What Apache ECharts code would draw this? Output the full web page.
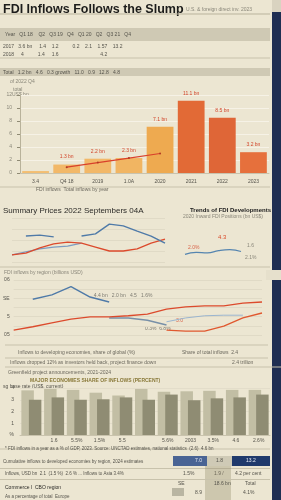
<!DOCTYPE html>
<html>
<head>
<meta charset="utf-8">
<script src="https://cdn.jsdelivr.net/npm/echarts@6/dist/echarts.min.js"></script>
<style>
  html, body { margin: 0; padding: 0; background: #ece6d2; }
  #chart { width: 281px; height: 500px; }
</style>
</head>
<body>
<div id="chart"></div>
<script>
// top bar chart
const barCats = ['3.4', 'Q4 18', '2019', '1.0A', '2020', '2021', '2022', '2023'];
const barVals = [0.3, 1.3, 2.2, 2.3, 7.1, 11.1, 8.5, 3.2];
const trendVals = [null, 0.9, 1.6, 2.3, 3.0, null, null, null];
const barTicks = ['0', '2', '4', '6', '8', '10', '12'];

// middle-left line chart
const midCats = ['J', 'F', 'M', 'A', 'M', 'J', 'J', 'A', 'S', 'O', 'N', 'D'];
const midBlue = [null, 5.9, 6.1, 5.7, null, 5.9, 6.4, 8.6, 8.2, 7.0, 5.9, 4.3];
const midRed = [1.6, 2.0, 3.2, 4.1, 4.5, 4.3, 3.4, 2.5, 2.5, 3.0, 4.3, 5.2];
const midBlue2 = [1.6, 2.3, 3.0, 3.4, 3.6, 4.3, null, null, null, null, null, null];

// small trend panel
const smallCats = ['a', 'b', 'c', 'd', 'e', 'f'];
const smallBlue = [1.0, 1.4, 1.3, 1.8, 2.0, 1.6];

// wide line chart
const wideCats = ['2011', '2012', '2013', '2014', '2015', '2016', '2017', '2018', '2019', '2020', '2021', '2022', '2023', '2024'];
const wideBlue = [null, 6.5, 7.3, 8.8, 6.9, 6.0, null, null, null, null, null, null, null, null];
const wideRed = [0.9, 1.5, 2.2, 2.9, 3.3, 3.3, 3.5, 3.8, 4.7, 5.1, 5.3, 5.3, 5.8, 6.0];
const wideRed2 = [null, null, null, null, null, null, null, null, 0.9, 0.7, 0.7, 1.6, 3.1, 4.0];
const wideSteel = [null, null, null, null, null, 3.1, 3.1, 2.7, 1.8, null, null, null, null, null];
const wideLight = [null, null, null, null, null, null, null, null, 2.4, 3.1, 3.5, 3.6, 3.6, null];
const wideTicks = ['05', '', '5', '', 'SE', '', '06'];

// bottom paired bars
const pairCats = ['', '1.6', '5.5%', '1.5%', '5.5', '', '5.6%', '2003', '3.5%', '4.6', '2.6%'];
const pairLight = [9.5, 9.8, 9.6, 9.0, 8.4, 9.8, 9.2, 9.3, 9.4, 9.6, 9.6];
const pairDark = [7.5, 8.0, 7.5, 7.6, 8.0, 7.5, 8.6, 7.4, 7.8, 8.0, 8.6];

const barColors = ['#f3be72', '#f2b868', '#f2b868', '#f1b562', '#eeaa50', '#e26a36', '#df6637', '#e6703c'];
const ink = '#3b3a36';
const faint = '#8a877a';
const font = 'Liberation Sans';

const chart = echarts.init(document.getElementById('chart'));

function txt(x, y, s, size, color, weight) {
  return {
    type: 'text', left: x, top: y,
    style: { text: s, fontSize: size, fill: color || faint, fontFamily: font, fontWeight: weight || 'normal' },
  };
}
function band(x, y, w, h, color) {
  return { type: 'rect', left: x, top: y, shape: { width: w, height: h }, style: { fill: color } };
}
function hline(y, x1, x2, color) {
  return { type: 'line', shape: { x1: x1, y1: y, x2: x2, y2: y }, style: { stroke: color || '#c8c2ac', lineWidth: 1 } };
}

const graphics = [
  band(272, 0, 9, 500, '#1f2e52'),
  band(272, 0, 9, 12, '#d9d3c0'),
  band(266, 270, 15, 10, '#e6e0cc'),
  txt(3, 3, 'FDI Inflows Follows the Slump', 12.5, '#1d1d1b', 'bold'),
  txt(186, 7, 'U.S. & foreign direct inv. 2023', 5, faint),
  hline(14, 0, 270, '#b9b39c'),
  band(0, 28, 270, 13, '#cfc9b4'),
  txt(5, 32, 'Year   Q1 18    Q2   Q3 19   Q4   Q1 20   Q2   Q3 21   Q4', 5, '#55534b'),
  txt(3, 44, '2017   3.6 bn     1.4    1.2          0.2    2.1    1.57    13.2', 5, '#55534b'),
  txt(3, 52, '2018     4          1.4     1.6                              4.2', 5, '#55534b'),
  hline(58, 0, 270, '#c8c2ac'),
  band(0, 68, 270, 8, '#cfc9b4'),
  txt(3, 70, 'Total   1.2 bn   4.6   0.3 growth   11.0   0.9   12.8   4.8', 5, '#55534b'),
  txt(10, 79, 'of 2022 Q4', 5, faint),
  txt(13, 87, 'total', 5, faint),
  txt(12, 92, 'US$ bn', 5, faint),
  hline(187, 0, 270, '#c8c2ac'),
  txt(36, 187, 'FDI inflows  Total inflows by year', 5, '#6b685d'),
  txt(3, 207, 'Summary Prices 2022 Septembers 04A', 8, '#2b2a27'),
  txt(190, 207, 'Trends of FDI Developments', 6, '#222', 'bold'),
  txt(183, 214, '2020 Inward FDI Positions (bn US$)', 5, faint),
  txt(218, 234, '4.3', 6, '#d94b2b'),
  txt(188, 245, '2.0%', 5, '#d9644a'),
  txt(247, 243, '1.6', 5, faint),
  txt(245, 255, '2.1%', 5, faint),
  hline(267, 0, 270, '#c8c2ac'),
  txt(4, 270, 'FDI inflows by region (billions USD)', 5, faint),
  txt(91, 293, '  4.4 bn   2.0 bn   4.5   1.6%  ', 5, '#7c7a70'),
  txt(176, 318, '3.0', 5, '#d9644a'),
  txt(145, 326, '0.3%  6.8%', 5, '#7c7a70'),
  hline(345, 5, 268, '#c8c2ac'),
  txt(18, 350, 'Inflows to developing economies, share of global (%)', 5, '#6b685d'),
  txt(182, 350, 'Share of total inflows  2.4', 5, '#6b685d'),
  hline(358, 5, 268, '#c8c2ac'),
  txt(10, 360, 'Inflows dropped 12% as investors held back, project finance down', 5, '#6b685d'),
  txt(232, 360, '2.4 trillion', 5, '#6b685d'),
  hline(367, 5, 281, '#c8c2ac'),
  txt(8, 370, 'Greenfield project announcements, 2021-2024', 5, '#6b685d'),
  txt(30, 378, 'MAJOR ECONOMIES SHARE OF INFLOWS (PERCENT)', 5, '#8a7a3a', 'bold'),
  txt(3, 384, 'sg base rate (US$, current)', 5, '#55534b'),
  hline(449, 0, 270, '#c8c2ac'),
  txt(5, 446, '* FDI inflows in a year as a % of GDP, 2023. Source: UNCTAD estimates, national statistics  (2.6)  4.6 bn', 4.5, '#55534b'),
  txt(3, 459, 'Cumulative inflows to developed economies by region, 2024 estimates', 4.5, '#55534b'),
  band(173, 456, 34, 10, '#4a6494'),
  band(207, 456, 25, 10, '#cfcab6'),
  band(232, 456, 38, 10, '#203a6c'),
  txt(195, 458, '7.0', 5, '#e8ecf5'),
  txt(216, 458, '1.8', 5, '#55534b'),
  txt(246, 458, '13.2', 5, '#e8ecf5'),
  band(0, 468, 270, 1, '#c8c2ac'),
  txt(5, 471, 'Inflows, USD bn  2.1  (1.5 %)  2.6 % ... Inflows to Asia 3.4%', 4.5, '#55534b'),
  txt(183, 471, '1.5%', 5, '#55534b'),
  txt(214, 471, '1.9 /', 5, '#55534b'),
  txt(235, 471, '4.2 per cent', 5, '#55534b'),
  band(205, 466, 26, 34, 'rgba(150,140,110,0.35)'),
  band(0, 479, 270, 1, '#c8c2ac'),
  txt(178, 481, 'SE', 5, '#55534b'),
  txt(214, 481, '18.6 bn', 5, '#55534b'),
  txt(245, 481, 'Total', 5, '#55534b'),
  txt(5, 485, 'Commerce I  CBO region', 5, '#2b2a27'),
  txt(5, 494, 'As a percentage of total  Europe', 4.5, '#55534b'),
  band(172, 488, 12, 8, '#b9b5a2'),
  txt(195, 490, '8.9', 5, '#55534b'),
  txt(243, 490, '4.1%', 5, '#55534b'),
];

const smallLabel = { fontSize: 5, color: faint, fontFamily: font };

const option = {
  backgroundColor: '#ece6d2',
  animation: false,
  graphic: graphics,
  grid: [
    { left: 20, right: 12, top: 95, height: 78 },
    { left: 12, right: 116, top: 218, height: 44 },
    { left: 185, right: 40, top: 245, height: 14 },
    { left: 12, right: 19, top: 280, height: 55 },
    { left: 20, right: 11, top: 388, height: 47 },
  ],
  xAxis: [
    {
      gridIndex: 0, type: 'category', data: barCats,
      axisLine: { lineStyle: { color: '#c9c3ad' } }, axisTick: { show: false },
      axisLabel: { fontSize: 5, color: '#55534b', fontFamily: font, margin: 6 },
    },
    { gridIndex: 1, type: 'category', data: midCats, boundaryGap: false, show: false },
    { gridIndex: 2, type: 'category', data: smallCats, boundaryGap: false, show: false },
    { gridIndex: 3, type: 'category', data: wideCats, boundaryGap: false, show: false },
    {
      gridIndex: 4, type: 'category', data: pairCats,
      axisLine: { lineStyle: { color: '#c9c3ad' } }, axisTick: { show: false },
      axisLabel: { fontSize: 5, color: '#55534b', fontFamily: font, margin: 3, interval: 0 },
    },
  ],
  yAxis: [
    {
      gridIndex: 0, type: 'value', min: 0, max: 12, interval: 2,
      axisLine: { show: true, lineStyle: { color: '#b8b29a' } },
      axisTick: { show: true, length: 3, lineStyle: { color: '#8f8a74' } },
      axisLabel: { fontSize: 5, color: faint, fontFamily: font, margin: 8, formatter: (v, i) => barTicks[i] },
      splitLine: { lineStyle: { color: '#f6f2e6', width: 1 } },
    },
    {
      gridIndex: 1, type: 'value', min: 0, max: 10, interval: 2.5,
      axisLabel: { show: false }, axisLine: { show: false },
      splitLine: { lineStyle: { color: '#e0dac6' } },
    },
    { gridIndex: 2, type: 'value', min: 0, max: 3, show: false },
    {
      gridIndex: 3, type: 'value', min: 0, max: 10, interval: 10 / 6,
      axisLine: { show: false }, axisTick: { show: false },
      axisLabel: { ...smallLabel, color: '#55534b', margin: 4, formatter: (v, i) => wideTicks[i] },
      splitLine: { lineStyle: { color: '#e0dac6' } },
    },
    {
      gridIndex: 4, type: 'value', min: 0, max: 10, interval: 2.5,
      axisLine: { show: false }, axisTick: { show: false },
      axisLabel: { ...smallLabel, color: '#55534b', margin: 6, formatter: (v) => (v === 0 ? '%' : String(v / 2.5 | 0)) },
      splitLine: { lineStyle: { color: '#e3ddca' } },
    },
  ],
  series: [
    {
      type: 'bar', xAxisIndex: 0, yAxisIndex: 0, data: barVals, barCategoryGap: '14%',
      itemStyle: { color: (p) => barColors[p.dataIndex] },
      label: {
        show: true, position: 'top', fontSize: 5, color: '#d2452a', fontFamily: font,
        formatter: (p) => (p.value < 1 ? '' : p.value.toFixed(1) + ' bn'),
      },
    },
    {
      type: 'line', xAxisIndex: 0, yAxisIndex: 0, data: trendVals, symbol: 'circle', symbolSize: 2,
      lineStyle: { color: '#d9412b', width: 1.2 }, itemStyle: { color: '#b03a22' },
    },
    {
      type: 'line', xAxisIndex: 1, yAxisIndex: 1, data: midBlue2, symbol: 'none',
      lineStyle: { color: '#7d9cc0', width: 1.2 },
    },
    {
      type: 'line', xAxisIndex: 1, yAxisIndex: 1, data: midRed, symbol: 'none',
      lineStyle: { color: '#dc4a2c', width: 1.3 },
    },
    {
      type: 'line', xAxisIndex: 1, yAxisIndex: 1, data: midBlue, symbol: 'none',
      lineStyle: { color: '#4f7aa8', width: 1.4 },
    },
    {
      type: 'line', xAxisIndex: 2, yAxisIndex: 2, data: smallBlue, symbol: 'none', smooth: true,
      lineStyle: { color: '#5585b0', width: 1.2 },
    },
    {
      type: 'line', xAxisIndex: 3, yAxisIndex: 3, data: wideLight, symbol: 'none',
      lineStyle: { color: '#9bb5cf', width: 1 },
    },
    {
      type: 'line', xAxisIndex: 3, yAxisIndex: 3, data: wideSteel, symbol: 'none',
      lineStyle: { color: '#7890a8', width: 1.5 },
    },
    {
      type: 'line', xAxisIndex: 3, yAxisIndex: 3, data: wideRed, symbol: 'none',
      lineStyle: { color: '#dc4a2c', width: 1.3 },
    },
    {
      type: 'line', xAxisIndex: 3, yAxisIndex: 3, data: wideRed2, symbol: 'none',
      lineStyle: { color: '#e0582f', width: 1.3 },
    },
    {
      type: 'line', xAxisIndex: 3, yAxisIndex: 3, data: wideBlue, symbol: 'none',
      lineStyle: { color: '#4f7aa8', width: 1.4 },
    },
    {
      type: 'bar', xAxisIndex: 4, yAxisIndex: 4, data: pairLight, barGap: '-40%', barCategoryGap: '12%',
      itemStyle: { color: '#c2bea4' },
    },
    {
      type: 'bar', xAxisIndex: 4, yAxisIndex: 4, data: pairDark,
      itemStyle: { color: '#8f8c73' },
    },
  ],
};

chart.setOption(option);
</script>
</body>
</html>
